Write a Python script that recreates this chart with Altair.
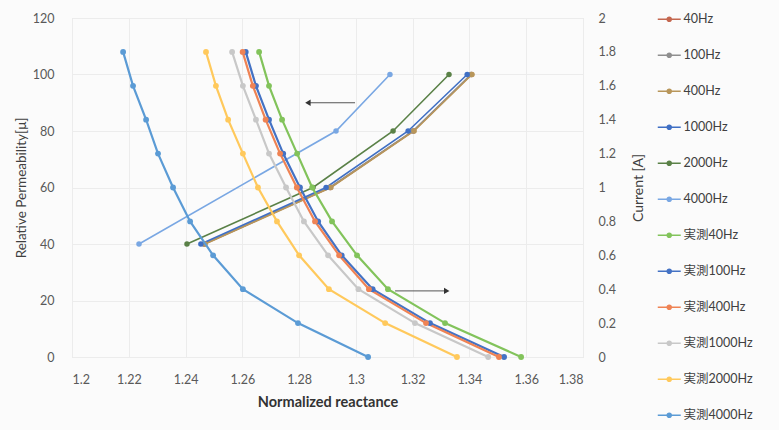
import altair as alt
import pandas as pd

# ---------------- data ----------------
x_ticks = [1.2, 1.22, 1.24, 1.26, 1.28, 1.3, 1.32, 1.34, 1.36, 1.38]

# simulated relative permeability (left axis)
perm_levels = [40, 60, 80, 100]
perm_levels_4000 = [40, 80, 100]
sim_40hz = [1.2466, 1.2910, 1.3203, 1.3407]
sim_100hz = [1.2464, 1.2908, 1.3201, 1.3405]
sim_400hz = [1.2469, 1.2912, 1.3205, 1.3409]
sim_1000hz = [1.2454, 1.2895, 1.3184, 1.3392]
sim_2000hz = [1.2405, 1.2849, 1.3131, 1.3328]
sim_4000hz = [1.2236, 1.2930, 1.3120]

# measured (right axis, current)
current_levels = [1.8, 1.6, 1.4, 1.2, 1.0, 0.8, 0.6, 0.4, 0.2, 0.0]
meas_40hz = [1.2659, 1.2694, 1.2740, 1.2793, 1.2846, 1.2916, 1.3004, 1.3113, 1.3314, 1.3582]
meas_100hz = [1.2612, 1.2648, 1.2694, 1.2744, 1.2803, 1.2867, 1.2950, 1.3059, 1.3261, 1.3522]
meas_400hz = [1.2601, 1.2637, 1.2682, 1.2733, 1.2792, 1.2856, 1.2941, 1.3046, 1.3247, 1.3504]
meas_1000hz = [1.2564, 1.2602, 1.2648, 1.2694, 1.2754, 1.2817, 1.2902, 1.3009, 1.3208, 1.3466]
meas_2000hz = [1.2472, 1.2507, 1.2550, 1.2602, 1.2655, 1.2722, 1.2800, 1.2905, 1.3103, 1.3356]
meas_4000hz = [1.2180, 1.2215, 1.2261, 1.2303, 1.2356, 1.2416, 1.2497, 1.2602, 1.2796, 1.3043]

series_names = ["40Hz", "100Hz", "400Hz", "1000Hz", "2000Hz", "4000Hz",
                "実測40Hz", "実測100Hz", "実測400Hz", "実測1000Hz", "実測2000Hz", "実測4000Hz"]
series_colors = ["#c4674f", "#8f8f8f", "#b8965a", "#3f6fc4", "#5a8147", "#79a7e3",
                 "#82c35b", "#4472c4", "#ef8354", "#c8c8c8", "#ffc95c", "#5b9bd5"]

# arrows (annotation), in data units
arrow_left_x = [1.2997, 1.2831]
arrow_left_y = [90]
arrow_right_x = [1.3138, 1.3320]
arrow_right_y = [0.39]

# ---------------- tables ----------------
left_sets = [("40Hz", sim_40hz, perm_levels), ("100Hz", sim_100hz, perm_levels),
             ("400Hz", sim_400hz, perm_levels), ("1000Hz", sim_1000hz, perm_levels),
             ("2000Hz", sim_2000hz, perm_levels), ("4000Hz", sim_4000hz, perm_levels_4000)]
right_sets = [("実測40Hz", meas_40hz), ("実測100Hz", meas_100hz), ("実測400Hz", meas_400hz),
              ("実測1000Hz", meas_1000hz), ("実測2000Hz", meas_2000hz), ("実測4000Hz", meas_4000hz)]

rows = []
for name, xs, ys in left_sets:
    for i, (xv, yv) in enumerate(zip(xs, ys)):
        rows.append({"series": name, "x": xv, "perm": yv, "cur": None, "i": i})
for name, xs in right_sets:
    for i, (xv, yv) in enumerate(zip(xs, current_levels)):
        rows.append({"series": name, "x": xv, "perm": None, "cur": yv, "i": i})
df = pd.DataFrame(rows)
left_df = df[df["perm"].notna()]
right_df = df[df["cur"].notna()]

arrow_l = pd.DataFrame({"x": [arrow_left_x[0]], "x2": [arrow_left_x[1]], "perm": arrow_left_y})
arrow_r = pd.DataFrame({"x": [arrow_right_x[0]], "x2": [arrow_right_x[1]], "cur": arrow_right_y})

FONT = "Lato, 'Noto Sans CJK JP', sans-serif"

x_scale = alt.Scale(domain=[1.2, 1.38], nice=False, zero=False)
x_enc = alt.X("x:Q", scale=x_scale,
              axis=alt.Axis(values=x_ticks, format=".2~f", title="Normalized reactance",
                            titleFontWeight="bold", titleFontSize=14.5, titleColor="#333333",
                            labelPadding=16, titlePadding=10, grid=True))

color_scale = alt.Scale(domain=series_names, range=series_colors)
legend_path = ("M-2,-0.12H2V0.12H-2Z"
               "M-0.5,0A0.5,0.5,0,1,1,0.5,0A0.5,0.5,0,1,1,-0.5,0Z")
legend = alt.Legend(title=None, orient="none", legendX=591, legendY=-5,
                    symbolType=legend_path, symbolSize=132, symbolStrokeWidth=0,
                    rowPadding=23, labelOffset=8, labelFontSize=12.5,
                    labelColor="#404040", padding=0)

perm_scale = alt.Scale(domain=[0, 120], nice=False)
cur_scale = alt.Scale(domain=[0, 2], nice=False)

yl_axis = alt.Axis(orient="left", values=[0, 20, 40, 60, 80, 100, 120],
                   title="Relative Permeability[μ]", titleFontSize=13.5,
                   titleFontWeight="normal", titleColor="#404040",
                   labelPadding=18, titlePadding=4, grid=True)
yr_axis = alt.Axis(orient="right", values=[0, 0.2, 0.4, 0.6, 0.8, 1.0, 1.2, 1.4, 1.6, 1.8, 2.0],
                   format=".1~f", title="Current [A]", titleFontSize=14,
                   titleFontWeight="normal", titleColor="#404040", titleAngle=270,
                   titleBaseline="top", labelPadding=15, titlePadding=16, grid=False)

base_l = alt.Chart(left_df)
base_r = alt.Chart(right_df)

left_lines = base_l.mark_line(strokeWidth=1.6).encode(
    x=x_enc, y=alt.Y("perm:Q", scale=perm_scale, axis=yl_axis),
    color=alt.Color("series:N", scale=color_scale, legend=legend), order="i:Q")
left_points = base_l.mark_circle(size=30, opacity=1).encode(
    x=alt.X("x:Q", scale=x_scale), y=alt.Y("perm:Q", scale=perm_scale, axis=None),
    color=alt.Color("series:N", scale=color_scale, legend=legend))
right_lines = base_r.mark_line(strokeWidth=2.2).encode(
    x=alt.X("x:Q", scale=x_scale), y=alt.Y("cur:Q", scale=cur_scale, axis=yr_axis),
    color=alt.Color("series:N", scale=color_scale, legend=legend), order="i:Q")
right_points = base_r.mark_circle(size=34, opacity=1).encode(
    x=alt.X("x:Q", scale=x_scale), y=alt.Y("cur:Q", scale=cur_scale, axis=None),
    color=alt.Color("series:N", scale=color_scale, legend=legend))
arrow_l_rule = alt.Chart(arrow_l).mark_rule(color="#555555", strokeWidth=1).encode(
    x=alt.X("x:Q", scale=x_scale), x2="x2:Q", y=alt.Y("perm:Q", scale=perm_scale, axis=None))
arrow_l_head = alt.Chart(arrow_l).mark_point(shape="triangle-left", filled=True,
                                              color="#333333", size=40, opacity=1).encode(
    x=alt.X("x2:Q", scale=x_scale), y=alt.Y("perm:Q", scale=perm_scale, axis=None))
arrow_r_rule = alt.Chart(arrow_r).mark_rule(color="#555555", strokeWidth=1).encode(
    x=alt.X("x:Q", scale=x_scale), x2="x2:Q", y=alt.Y("cur:Q", scale=cur_scale, axis=None))
arrow_r_head = alt.Chart(arrow_r).mark_point(shape="triangle-right", filled=True,
                                              color="#333333", size=40, opacity=1).encode(
    x=alt.X("x2:Q", scale=x_scale), y=alt.Y("cur:Q", scale=cur_scale, axis=None))

chart = alt.layer(left_lines, left_points, right_lines, right_points,
                  arrow_l_rule, arrow_l_head, arrow_r_rule, arrow_r_head
).resolve_scale(y="independent").properties(
    width=511, height=339,
    autosize=alt.AutoSizeParams(type="none"),
    padding={"left": 72, "top": 18, "right": 196, "bottom": 73},
    background="#fbfbfb",
).configure_axis(
    labelFont=FONT, titleFont=FONT, labelFontSize=12.5, labelColor="#595959",
    domain=False, ticks=False, tickSize=0, gridColor="#ececec", gridWidth=1,
).configure_view(stroke="#dedede", strokeWidth=1).configure_legend(labelFont=FONT)

chart.save("out.html", embed_options={"renderer": "svg", "actions": False})
